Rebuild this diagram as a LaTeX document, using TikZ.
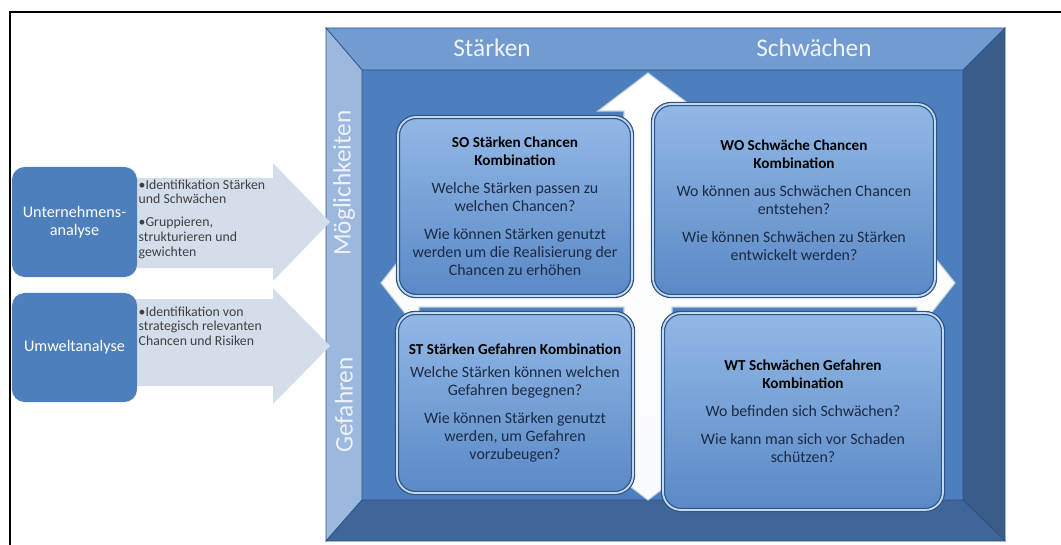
\documentclass[tikz,border=0pt]{standalone}
\usepackage{fontspec}
\setmainfont{Carlito}

\definecolor{bevelline}{HTML}{2E5283}
\definecolor{bevtop}{HTML}{729BD1}
\definecolor{bevleft}{HTML}{9CB8DE}
\definecolor{bevright}{HTML}{3A5C8A}
\definecolor{bevbottom}{HTML}{3F6698}
\definecolor{face}{HTML}{4D7EBD}
\definecolor{headwhite}{HTML}{EEF3FA}
\definecolor{quadrim}{HTML}{2F5586}
\definecolor{quadhi}{HTML}{C4D8F0}
\definecolor{quadtop}{HTML}{92B8E6}
\definecolor{quadbot}{HTML}{5A89C6}
\definecolor{quadtext}{HTML}{1C2A44}
\definecolor{srcblue}{HTML}{4D7FBC}
\definecolor{flowgray}{HTML}{D4DEEB}
\definecolor{flowtext}{HTML}{404040}
\definecolor{crossline}{HTML}{C9D3E1}

\newcommand{\qtitle}[1]{\textbf{\color{black}\fontsize{10.8}{12.8}\selectfont #1}}

\begin{document}
\begin{tikzpicture}[
  x=0.025cm, y=-0.025cm,
  every node/.style={inner sep=1pt},
  bevel/.style={draw=bevelline, line width=0.5pt},
  quad/.style={draw=quadrim, line width=0.9pt, double=quadhi, double distance=1.3pt,
    rounded corners=13pt, top color=quadtop, bottom color=quadbot,
    align=center, text=quadtext, font=\fontsize{11.3}{12.8}\selectfont},
  srcbox/.style={fill=srcblue, rounded corners=9pt, text=white, align=center,
    minimum width=3.125cm, font=\fontsize{11.5}{12.5}\selectfont},
  flow/.style={fill=flowgray},
  flowtext/.style={anchor=west, align=left, text=flowtext,
    font=\fontsize{9.8}{10.4}\selectfont},
  head/.style={text=headwhite, font=\fontsize{18}{20}\selectfont}]

  \useasboundingbox (0,0) rectangle (1061,545);

  % frame lines of the page
  \draw[line width=1.5pt] (10,545) -- (10,12) -- (1061,12);

  % bevelled matrix frame
  \fill[face] (362,70) rectangle (963,500);
  \filldraw[bevel, fill=bevtop]    (326,28) -- (1005,28) -- (963,70) -- (362,70) -- cycle;
  \filldraw[bevel, fill=bevleft]   (326,28) -- (362,70) -- (362,500) -- (326,541) -- cycle;
  \filldraw[bevel, fill=bevright]  (1005,28) -- (1005,541) -- (963,500) -- (963,70) -- cycle;
  \filldraw[bevel, fill=bevbottom] (326,541) -- (362,500) -- (963,500) -- (1005,541) -- cycle;

  % white cross arrow behind the quadrants
  \filldraw[draw=crossline, line width=0.8pt, top color=white, bottom color=white!90!crossline]
    (648,73) -- (698,111) -- (672,111) -- (672,261) -- (917,261) -- (917,235)
    -- (955,283) -- (917,331) -- (917,307) -- (672,307) -- (672,462) -- (698,462)
    -- (648,500) -- (598,462) -- (624,462) -- (624,307) -- (419,307) -- (419,331)
    -- (381,283) -- (419,235) -- (419,261) -- (624,261) -- (624,111) -- (598,111) -- cycle;

  % headings
  \node[head] (strong) at (492,48) {Stärken};
  \node[head] (weak)   at (814,48) {Schwächen};
  \node[head, rotate=90] (chance) at (344,183) {Möglichkeiten};
  \node[head, rotate=90] (threat) at (344,405) {Gefahren};

  % quadrants
  \node[quad, minimum width=5.85cm, minimum height=4.475cm] (so) at (515,206.5)
    {\qtitle{SO Stärken Chancen}\\\qtitle{Kombination}\\[7pt]
     Welche Stärken passen zu\\welchen Chancen?\\[7pt]
     Wie können Stärken genutzt\\werden um die Realisierung der\\Chancen zu erhöhen};
  \node[quad, minimum width=7.05cm, minimum height=4.8cm] (wo) at (794,200)
    {\qtitle{WO Schwäche Chancen}\\\qtitle{Kombination}\\[7pt]
     Wo können aus Schwächen Chancen\\entstehen?\\[7pt]
     Wie können Schwächen zu Stärken\\entwickelt werden?};
  \node[quad, minimum width=5.9cm, minimum height=4.5cm] (st) at (515,403)
    {\qtitle{ST Stärken Gefahren Kombination}\\[4pt]
     Welche Stärken können welchen\\Gefahren begegnen?\\[7pt]
     Wie können Stärken genutzt\\werden, um Gefahren\\vorzubeugen?};
  \node[quad, minimum width=7.0cm, minimum height=4.925cm] (wt) at (803,411.5)
    {\qtitle{WT Schwächen Gefahren}\\\qtitle{Kombination}\\[7pt]
     Wo befinden sich Schwächen?\\[7pt]
     Wie kann man sich vor Schaden\\schützen?};

  % input arrows
  \fill[flow] (120,178) -- (273,178) -- (273,163) -- (330,222) -- (273,281)
    -- (273,268) -- (120,268) -- cycle;
  \fill[flow] (120,299) -- (273,299) -- (273,288) -- (330,346) -- (273,404)
    -- (273,386) -- (120,386) -- cycle;

  % analysis boxes
  \node[srcbox, minimum height=2.75cm] (company) at (74.5,222)
    {Unternehmens-\\analyse};
  \node[srcbox, minimum height=2.725cm] (environ) at (74.5,347.5)
    {Umweltanalyse};

  \node[flowtext] (companytxt) at (137,219)
    {\textbullet Identifikation Stärken\\und Schwächen\\[6pt]
     \textbullet Gruppieren,\\strukturieren und\\gewichten};
  \node[flowtext] (environtxt) at (137,326)
    {\textbullet Identifikation von\\strategisch relevanten\\Chancen und Risiken};
\end{tikzpicture}
\end{document}
